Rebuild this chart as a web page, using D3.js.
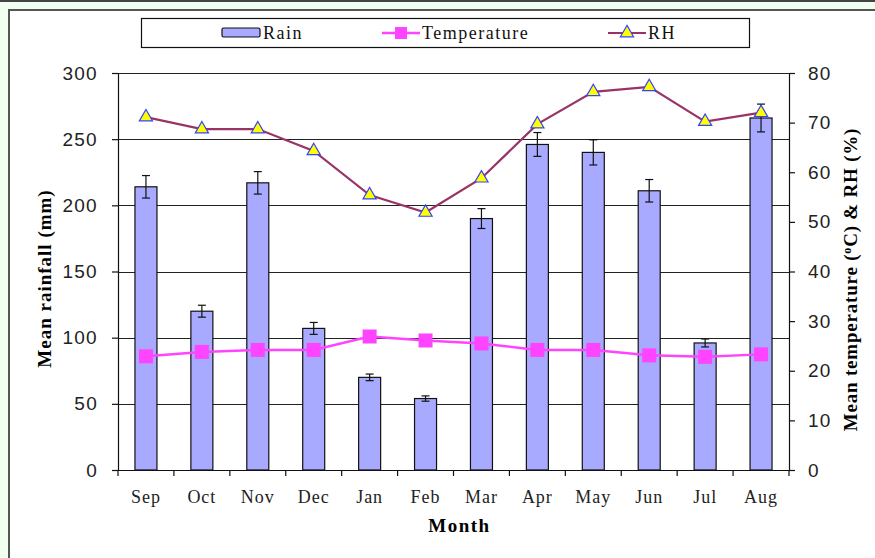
<!DOCTYPE html>
<html>
<head>
<meta charset="utf-8">
<script src="https://cdn.jsdelivr.net/npm/d3@7"></script>
<style>
  body { margin: 0; background: #f0fff0; }
  svg { display: block; }
</style>
</head>
<body>
<div id="chart"></div>
<script>
const months = ["Sep", "Oct", "Nov", "Dec", "Jan", "Feb", "Mar", "Apr", "May", "Jun", "Jul", "Aug"];
const rain = [214, 120, 217, 107, 70, 54, 190, 246, 240, 211, 96, 266];
const rainErr = [8.5, 4.5, 8.5, 4.5, 2.5, 2, 7.5, 9, 9.5, 8.5, 3, 10.5];
const temperature = [22.9, 23.8, 24.2, 24.2, 26.9, 26.1, 25.5, 24.2, 24.2, 23.1, 22.8, 23.3];
const rh = [71.1, 68.7, 68.7, 64.3, 55.4, 51.9, 58.8, 69.7, 76.2, 77.2, 70.2, 72];
const leftTicks = [0, 50, 100, 150, 200, 250, 300];
const rightTicks = [0, 10, 20, 30, 40, 50, 60, 70, 80];

const W = 875, H = 558;
const margin = { top: 73, right: 86, bottom: 88, left: 118 };
const width = W - margin.left - margin.right;
const height = H - margin.top - margin.bottom;

const serif = "Liberation Serif, Times New Roman, serif";
const sans = "Liberation Sans, Arial, sans-serif";

const svg = d3.select("#chart").append("svg")
  .attr("width", W)
  .attr("height", H);

// outer frame
svg.append("rect").attr("x", 0).attr("y", 0).attr("width", W).attr("height", H).attr("fill", "#f0fff0");
svg.append("line").attr("x1", 0).attr("x2", W).attr("y1", 1).attr("y2", 1).attr("stroke", "#444").attr("stroke-width", 2);
svg.append("rect").attr("x", 9).attr("y", 10).attr("width", W - 9).attr("height", H - 10).attr("fill", "#fff");
svg.append("path").attr("d", `M9,${H}V10H${W}`).attr("fill", "none").attr("stroke", "#555").attr("stroke-width", 2);

const g = svg.append("g").attr("transform", `translate(${margin.left},${margin.top})`);

const x = d3.scaleBand().domain(months).range([0, width]);
const yL = d3.scaleLinear().domain([0, 300]).range([height, 0]);
const yR = d3.scaleLinear().domain([0, 80]).range([height, 0]);

// gridlines
g.selectAll(".grid").data(leftTicks).enter().append("line")
  .attr("x1", 0).attr("x2", width)
  .attr("y1", d => Math.round(yL(d)) + 0.5).attr("y2", d => Math.round(yL(d)) + 0.5)
  .attr("stroke", "#222").attr("stroke-width", 1);

// bars
const bw = 22;
g.selectAll(".bar").data(rain).enter().append("rect")
  .attr("x", (d, i) => x(months[i]) + x.bandwidth() / 2 - bw / 2)
  .attr("y", d => yL(d))
  .attr("width", bw)
  .attr("height", d => height - yL(d))
  .attr("fill", "#a8aaff")
  .attr("stroke", "#111").attr("stroke-width", 1.2);

// error bars
const eb = g.selectAll(".err").data(rain).enter().append("g")
  .attr("transform", (d, i) => `translate(${x(months[i]) + x.bandwidth() / 2},0)`);
eb.append("line").attr("x1", 0).attr("x2", 0)
  .attr("y1", (d, i) => yL(d + rainErr[i])).attr("y2", (d, i) => yL(d - rainErr[i]))
  .attr("stroke", "#111").attr("stroke-width", 1.2);
eb.append("line").attr("x1", -4).attr("x2", 4)
  .attr("y1", (d, i) => yL(d + rainErr[i])).attr("y2", (d, i) => yL(d + rainErr[i]))
  .attr("stroke", "#111").attr("stroke-width", 1.2);
eb.append("line").attr("x1", -4).attr("x2", 4)
  .attr("y1", (d, i) => yL(d - rainErr[i])).attr("y2", (d, i) => yL(d - rainErr[i]))
  .attr("stroke", "#111").attr("stroke-width", 1.2);

// axes
const axisStyle = sel => {
  sel.selectAll("path, line").attr("stroke", "#111").attr("stroke-width", 1.2);
  sel.selectAll("text").attr("fill", "#222");
};
g.append("g")
  .call(d3.axisLeft(yL).tickValues(leftTicks).tickSize(6).tickPadding(14))
  .call(axisStyle)
  .call(a => a.selectAll("text").style("font-family", sans).style("font-size", "19px").style("letter-spacing", "1.3px"));

g.append("g")
  .attr("transform", `translate(${width},0)`)
  .call(d3.axisRight(yR).tickValues(rightTicks).tickSize(6).tickPadding(13))
  .call(axisStyle)
  .call(a => a.selectAll("text").style("font-family", sans).style("font-size", "19px").style("letter-spacing", "1.3px"));

const xAxis = g.append("g")
  .attr("transform", `translate(0,${height})`)
  .call(d3.axisBottom(x).tickSize(0).tickPadding(20))
  .call(axisStyle);
xAxis.selectAll("text").style("font-family", serif).style("font-size", "18px").style("letter-spacing", "1px");
xAxis.selectAll(".sep").data(d3.range(months.length + 1)).enter().append("line")
  .attr("x1", i => i * x.step()).attr("x2", i => i * x.step())
  .attr("y1", 0).attr("y2", 6)
  .attr("stroke", "#111").attr("stroke-width", 1.2);

// temperature line
const cx = i => x(months[i]) + x.bandwidth() / 2;
g.append("path").datum(temperature)
  .attr("d", d3.line().x((d, i) => cx(i)).y(d => yR(d)))
  .attr("fill", "none").attr("stroke", "#ff44ff").attr("stroke-width", 2.5);
g.selectAll(".sq").data(temperature).enter().append("rect")
  .attr("x", (d, i) => cx(i) - 7).attr("y", d => yR(d) - 7)
  .attr("width", 14).attr("height", 14)
  .attr("fill", "#ff44ff");

// RH line
g.append("path").datum(rh)
  .attr("d", d3.line().x((d, i) => cx(i)).y(d => yR(d)))
  .attr("fill", "none").attr("stroke", "#993366").attr("stroke-width", 2.2);
const tri = d3.symbol().type(d3.symbolTriangle).size(75);
g.selectAll(".tri").data(rh).enter().append("path")
  .attr("d", tri)
  .attr("transform", (d, i) => `translate(${cx(i)},${yR(d)})`)
  .attr("fill", "#ffff00").attr("stroke", "#3344ff").attr("stroke-width", 1.2);

// axis titles
svg.append("text")
  .attr("transform", `translate(51,${margin.top + height / 2 + 7}) rotate(-90)`)
  .attr("text-anchor", "middle")
  .style("font-family", serif)
  .style("font-size", "19px").style("font-weight", "bold").style("letter-spacing", "1px")
  .text("Mean rainfall (mm)");

const rt = svg.append("text")
  .attr("transform", `translate(857,${margin.top + height / 2 + 8}) rotate(-90)`)
  .attr("text-anchor", "middle")
  .style("font-family", serif)
  .style("font-size", "19px").style("font-weight", "bold").style("letter-spacing", "0.8px");
rt.append("tspan").text("Mean temperature (");
rt.append("tspan").attr("dy", -6).style("font-size", "12px").text("o");
rt.append("tspan").attr("dy", 6).text("C) & RH (%)");

svg.append("text")
  .attr("x", margin.left + width / 2 + 6).attr("y", 532)
  .attr("text-anchor", "middle")
  .style("font-family", serif)
  .style("font-size", "19px").style("font-weight", "bold").style("letter-spacing", "1.5px")
  .text("Month");

// legend
const lg = svg.append("g");
lg.append("rect").attr("x", 141.5).attr("y", 18.5).attr("width", 608).attr("height", 29)
  .attr("fill", "#fff").attr("stroke", "#111").attr("stroke-width", 1.2);
const legendFont = sel => sel.style("font-family", serif).style("font-size", "18px").style("letter-spacing", "1.5px").attr("fill", "#111");

lg.append("rect").attr("x", 222).attr("y", 28).attr("width", 38).attr("height", 9)
  .attr("rx", 1.5).attr("fill", "#a8aaff").attr("stroke", "#111").attr("stroke-width", 1.2);
lg.append("text").attr("x", 263).attr("y", 39).text("Rain").call(legendFont);

lg.append("line").attr("x1", 382).attr("x2", 420).attr("y1", 33).attr("y2", 33)
  .attr("stroke", "#ff44ff").attr("stroke-width", 2.5);
lg.append("rect").attr("x", 395).attr("y", 27).attr("width", 12).attr("height", 12).attr("fill", "#ff44ff");
lg.append("text").attr("x", 422).attr("y", 39).text("Temperature").call(legendFont);

lg.append("line").attr("x1", 608).attr("x2", 646).attr("y1", 33).attr("y2", 33)
  .attr("stroke", "#993366").attr("stroke-width", 2.2);
lg.append("path").attr("d", tri).attr("transform", "translate(627,33)")
  .attr("fill", "#ffff00").attr("stroke", "#3344ff").attr("stroke-width", 1.2);
lg.append("text").attr("x", 648).attr("y", 39).text("RH").call(legendFont);
</script>
</body>
</html>
